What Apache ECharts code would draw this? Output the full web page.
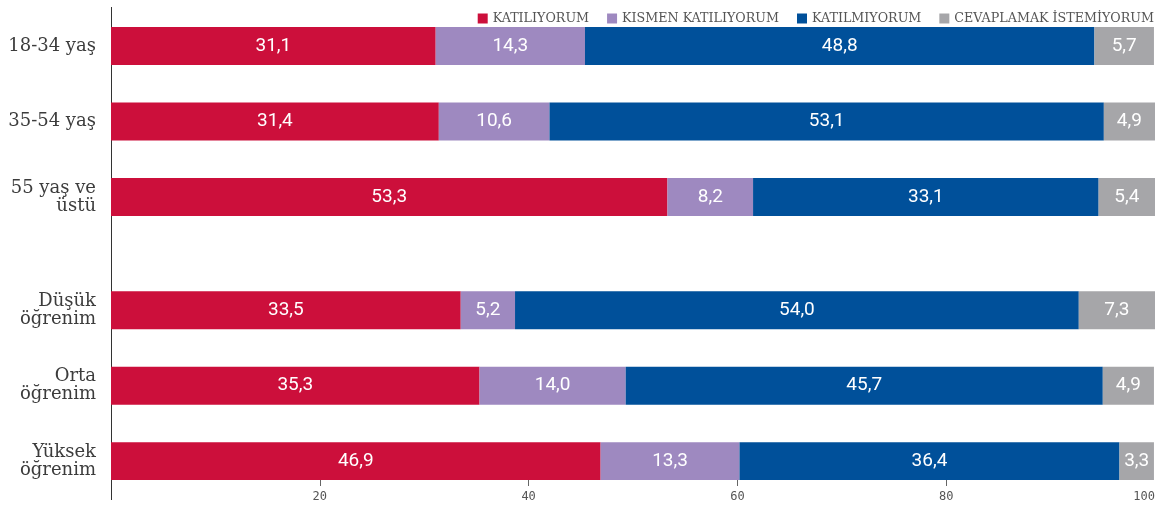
<!DOCTYPE html>
<html>
<head>
<meta charset="utf-8">
<script src="https://cdn.jsdelivr.net/npm/echarts@6/dist/echarts.min.js"></script>
<style>html,body{margin:0;padding:0;background:#fff;}#c{width:1163px;height:505px;}</style>
</head>
<body>
<div id="c"></div>
<script>
// ---- data ----
const categories = ['18-34 yaş', '35-54 yaş', '55 yaş ve\nüstü', 'Düşük\nöğrenim', 'Orta\nöğrenim', 'Yüksek\nöğrenim'];
const seriesNames = ['KATILIYORUM', 'KISMEN KATILIYORUM', 'KATILMIYORUM', 'CEVAPLAMAK İSTEMİYORUM'];
const katiliyorum = [31.1, 31.4, 53.3, 33.5, 35.3, 46.9];
const kismen = [14.3, 10.6, 8.2, 5.2, 14.0, 13.3];
const katilmiyorum = [48.8, 53.1, 33.1, 54.0, 45.7, 36.4];
const cevaplamak = [5.7, 4.9, 5.4, 7.3, 4.9, 3.3];
const xTicks = [0, 20, 40, 60, 80, 100];
const xTickMarks = [20, 40, 60, 80];

// ---- layout (slot positions on the category axis, gap between groups) ----
const slotOf = [0, 2, 4, 7, 9, 11];
const slotCount = 12;
const colors = ['#CC0F3B', '#9E89C0', '#00509A', '#A6A6A9'];

const slotCats = Array.from({length: slotCount}, () => '');
slotOf.forEach((s, i) => { slotCats[s] = categories[i]; });
function toSlots(arr) {
  const out = Array.from({length: slotCount}, () => null);
  slotOf.forEach((s, i) => { out[s] = arr[i]; });
  return out;
}
const allValues = [katiliyorum, kismen, katilmiyorum, cevaplamak];

const chart = echarts.init(document.getElementById('c'), null, {renderer: 'canvas'});
chart.setOption({
  animation: false,
  color: colors,
  legend: {
    top: 7,
    right: 4,
    icon: 'rect',
    itemWidth: 10,
    itemHeight: 10,
    itemGap: 18,
    data: seriesNames,
    textStyle: {fontFamily: 'DejaVu Serif', fontSize: 12.7, color: '#555'}
  },
  grid: {left: 111, right: 8, top: 27, bottom: 25, containLabel: false},
  xAxis: {
    type: 'value',
    min: xTicks[0],
    max: xTicks[xTicks.length - 1],
    interval: xTicks[1] - xTicks[0],
    splitLine: {show: false},
    axisLine: {show: false},
    axisTick: {show: true, length: 6, customValues: xTickMarks, lineStyle: {color: '#666'}},
    axisLabel: {
      color: '#555', fontFamily: 'DejaVu Sans Mono', fontSize: 12, margin: 11,
      formatter: v => v === 0 ? '' : String(v),
      alignMaxLabel: 'right'
    }
  },
  yAxis: {
    type: 'category',
    inverse: true,
    data: slotCats,
    axisLine: {show: false},
    axisTick: {show: false},
    axisLabel: {
      interval: 0,
      fontFamily: 'DejaVu Serif', fontSize: 18, lineHeight: 18, color: '#3c3c3c',
      margin: 15, align: 'right'
    }
  },
  graphic: [{
    type: 'line',
    shape: {x1: 111.5, y1: 7, x2: 111.5, y2: 500},
    style: {stroke: '#333', lineWidth: 1},
    silent: true
  }],
  series: seriesNames.map((name, k) => ({
    name: name,
    type: 'bar',
    stack: 'total',
    barWidth: 38,
    data: toSlots(allValues[k]),
    label: {
      show: true,
      position: 'inside',
      color: '#fff',
      fontFamily: 'Roboto',
      fontSize: 19,
      formatter: p => p.value == null ? '' : p.value.toFixed(1).replace('.', ',')
    },
    itemStyle: {color: colors[k]}
  }))
});
</script>
</body>
</html>
